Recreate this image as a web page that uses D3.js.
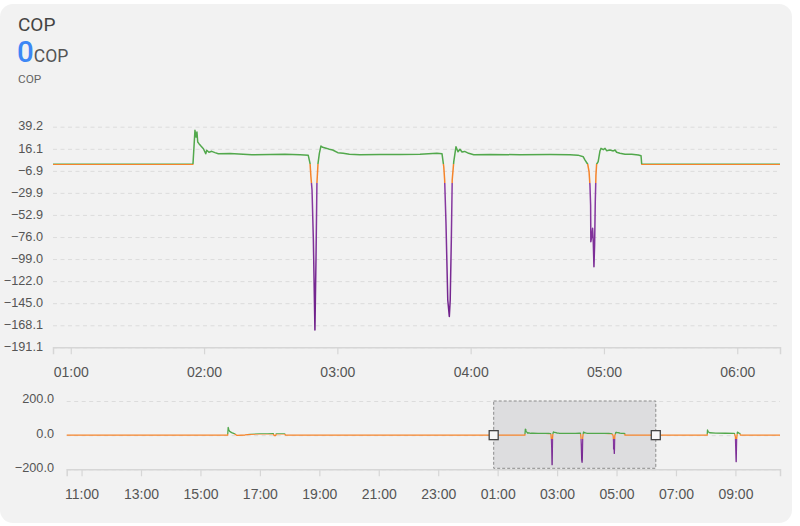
<!DOCTYPE html>
<html>
<head>
<meta charset="utf-8">
<script src="https://cdn.jsdelivr.net/npm/d3@7/dist/d3.min.js"></script>
<style>
  html, body { margin: 0; padding: 0; background: #ffffff; }
  svg { display: block; }
</style>
</head>
<body>
<div id="chart"></div>
<script>
const palette = {
  card: "#f2f2f2",
  ink: "#444444",
  label: "#555555",
  grid: "#dcdcdc",
  axis: "#d6d6d6",
  blue: "#3d87f5",
  green: "#52a84c",
  orange: "#f5842b",
  purple: "#7d2e95",
  brush: "#dddddf"
};

const dayOne = "2024-05-12";
const dayTwo = "2024-05-13";

// idle edges of the 24h overview window
const idleEdges = [
  [dayOne, "10:30:00", 0],
  [dayTwo, "10:30:00", 0]
];

// first run, afternoon of day one (only visible in the overview)
const afternoonRun = [
  ["15:55:00", 0], ["15:56:00", 46], ["15:57:30", 30], ["15:59:00", 22], ["16:03:00", 15],
  ["16:08:00", 9], ["16:12:00", 2], ["16:14:00", -1], ["16:30:00", 1], ["16:40:00", 5],
  ["17:00:00", 7], ["17:15:00", 8], ["17:27:00", 9], ["17:29:00", -3], ["17:32:00", -2],
  ["17:33:00", 8], ["17:50:00", 8], ["17:52:00", 0]
];

// night run, day two (main window)
const nightRun = [
  ["01:55:00", 0], ["01:55:54", 35.4], ["01:56:24", 28.4], ["01:56:48", 33.7], ["01:57:09", 23.2],
  ["01:57:42", 21.5], ["01:58:36", 19.0], ["01:59:42", 16.2], ["02:00:45", 11.0], ["02:01:12", 14.6],
  ["02:02:12", 12.5], ["02:03:27", 13.5], ["02:04:54", 12.1], ["02:06:24", 11.0], ["02:11:42", 11.3],
  ["02:21:30", 10.0], ["02:29:42", 10.2], ["02:36:24", 10.4], ["02:43:12", 9.8], ["02:46:54", 9.3],
  ["02:47:42", 1.0], ["02:48:06", -13.0], ["02:48:36", -26.9], ["02:49:12", -79.0], ["02:49:54", -173.0],
  ["02:50:24", -96.5], ["02:50:48", -19.9], ["02:51:18", 1.0], ["02:51:54", 11.4], ["02:52:36", 19.0],
  ["02:53:24", 17.7], ["02:54:54", 16.8], ["02:56:24", 15.6], ["02:57:54", 14.9], ["03:00:12", 12.1],
  ["03:02:36", 11.5], ["03:05:24", 10.4], ["03:10:12", 10.0], ["03:19:12", 10.3], ["03:28:12", 10.1],
  ["03:37:12", 10.4], ["03:44:48", 11.4], ["03:47:06", 11.0], ["03:47:54", -2.6], ["03:48:18", -16.4],
  ["03:48:54", -61.6], ["03:49:42", -141.7], ["03:50:24", -159.0], ["03:50:48", -141.7], ["03:51:18", -79.0],
  ["03:51:42", -16.4], ["03:52:24", 2.7], ["03:53:24", 18.3], ["03:54:18", 13.1], ["03:55:12", 15.6],
  ["03:56:06", 12.8], ["03:57:18", 13.4], ["03:59:06", 11.4], ["04:01:24", 10.0], ["04:08:42", 10.3],
  ["04:22:12", 9.9], ["04:35:42", 10.1], ["04:44:42", 9.8], ["04:48:18", 9.5], ["04:50:42", 7.8],
  ["04:51:30", 4.4], ["04:52:42", 0.0], ["04:53:18", -7.8], ["04:53:42", -21.7], ["04:54:00", -42.5],
  ["04:54:06", -80.9], ["04:54:36", -73.9], ["04:54:54", -66.9], ["04:55:12", -80.9], ["04:55:30", -107.0],
  ["04:55:48", -84.0], ["04:56:06", -39.1], ["04:56:24", -11.2], ["04:56:42", 0.0], ["04:57:24", 2.7],
  ["04:58:12", 13.8], ["04:58:42", 16.6], ["04:59:42", 15.2], ["05:00:30", 16.6], ["05:01:12", 14.2],
  ["05:02:42", 14.9], ["05:04:12", 13.9], ["05:05:00", 14.9], ["05:05:42", 12.5], ["05:07:12", 11.5],
  ["05:09:30", 10.4], ["05:12:30", 10.4], ["05:15:30", 9.7], ["05:16:42", 8.9], ["05:17:00", 0]
];

// morning run, day two (only visible in the overview)
const morningRun = [
  ["08:03:00", 0], ["08:03:40", 31], ["08:05:00", 20], ["08:08:00", 14], ["08:20:00", 12],
  ["08:40:00", 11], ["08:58:00", 10], ["09:00:00", -10], ["09:01:30", -155], ["09:02:30", -20],
  ["09:04:00", 18], ["09:07:00", 12], ["09:09:00", 10], ["09:10:00", 0]
];

const mainWindow = [[dayTwo, "00:52:00"], [dayTwo, "06:19:15"]];
const mainTicks = ["01:00", "02:00", "03:00", "04:00", "05:00", "06:00"];
const mainYTicks = [39.2, 16.1, -6.9, -29.9, -52.9, -76.0, -99.0, -122.0, -145.0, -168.1, -191.1];
const overviewTicks = [
  [dayOne, "11:00"], [dayOne, "13:00"], [dayOne, "15:00"], [dayOne, "17:00"], [dayOne, "19:00"],
  [dayOne, "21:00"], [dayOne, "23:00"], [dayTwo, "01:00"], [dayTwo, "03:00"], [dayTwo, "05:00"],
  [dayTwo, "07:00"], [dayTwo, "09:00"]
];
const overviewYTicks = [200, 0, -200];

const parseTime = d3.timeParse("%Y-%m-%d %H:%M:%S");
const at = (day, hms) => parseTime(`${day} ${hms.length === 5 ? hms + ":00" : hms}`);

const series = [
  ...idleEdges.map(([day, t, v]) => ({ t: at(day, t), v })),
  ...afternoonRun.map(([t, v]) => ({ t: at(dayOne, t), v })),
  ...nightRun.map(([t, v]) => ({ t: at(dayTwo, t), v })),
  ...morningRun.map(([t, v]) => ({ t: at(dayTwo, t), v }))
].sort((a, b) => a.t - b.t);

const width = 800;
const height = 526;
const svg = d3.select("#chart").append("svg")
  .attr("width", width)
  .attr("height", height)
  .style("font-family", "'Liberation Sans', Arial, sans-serif");

svg.append("rect")
  .attr("x", 0).attr("y", 4)
  .attr("width", 792).attr("height", 519)
  .attr("rx", 13)
  .attr("fill", palette.card);

// header
svg.append("text")
  .attr("x", 18).attr("y", 30.5)
  .attr("fill", palette.ink)
  .attr("font-family", "Roboto, sans-serif")
  .attr("font-size", 19)
  .text("COP");

const big = svg.append("text")
  .attr("x", 17).attr("y", 62.3)
  .attr("font-family", "Roboto, sans-serif");
big.append("tspan").attr("fill", palette.blue).attr("font-weight", 500).attr("font-size", 29.5).text("0");
big.append("tspan").attr("fill", palette.label).attr("font-size", 17.5).text("COP");

svg.append("text")
  .attr("x", 18).attr("y", 83.3)
  .attr("fill", "#666")
  .attr("font-family", "Roboto, sans-serif")
  .attr("font-size", 11.8)
  .text("COP");

const defs = svg.append("defs");

// colour pieces keyed on value: green above ~0, orange down to -20, purple below
function appendPieces(id, y, greenFrom) {
  const [top, bottom] = [y(y.domain()[1]), y(y.domain()[0])];
  const off = (v) => Math.max(0, Math.min(1, (y(v) - top) / (bottom - top)));
  const g = defs.append("linearGradient")
    .attr("id", id)
    .attr("gradientUnits", "userSpaceOnUse")
    .attr("x1", 0).attr("x2", 0)
    .attr("y1", top).attr("y2", bottom);
  [
    [0, palette.green], [off(greenFrom), palette.green],
    [off(greenFrom), palette.orange], [off(-20), palette.orange],
    [off(-20), "#8a3ca3"], [1, "#6a1b86"]
  ].forEach(([o, c]) => g.append("stop").attr("offset", o).attr("stop-color", c));
}

function styleGrid(g) {
  g.select(".domain").remove();
  g.selectAll(".tick line")
    .attr("stroke", palette.grid)
    .attr("stroke-dasharray", "4,3.5");
  g.selectAll(".tick text")
    .attr("fill", palette.label)
    .attr("font-size", 12.7);
}

// ---- main chart ----
const main = { left: 53, right: 780, top: 126.7, bottom: 347.3 };
const x = d3.scaleTime()
  .domain(mainWindow.map(([d, t]) => at(d, t)))
  .range([main.left, main.right]);
const y = d3.scaleLinear()
  .domain([-191.1, 39.2])
  .range([main.bottom, main.top]);

appendPieces("cop-main", y, 0.6);

svg.append("g")
  .attr("transform", `translate(${main.left},0)`)
  .call(d3.axisLeft(y)
    .tickValues(mainYTicks)
    .tickFormat(d3.format(".1f"))
    .tickSize(-(main.right - main.left))
    .tickPadding(10))
  .call(styleGrid)
  .selectAll(".tick text").attr("dy", "0.25em");

svg.append("g")
  .attr("transform", `translate(0,${main.bottom})`)
  .call(d3.axisBottom(x)
    .tickValues(mainTicks.map((t) => at(dayTwo, t)))
    .tickFormat(d3.timeFormat("%H:%M"))
    .tickSize(7)
    .tickPadding(12.5))
  .call((g) => {
    g.select(".domain").attr("stroke", palette.axis).attr("stroke-width", 1.5);
    g.selectAll(".tick line").attr("stroke", palette.axis).attr("stroke-width", 1.2);
    g.selectAll(".tick text").attr("fill", palette.label).attr("font-size", 14);
  });

defs.append("clipPath").attr("id", "main-clip")
  .append("rect")
  .attr("x", main.left).attr("y", 0)
  .attr("width", main.right - main.left).attr("height", height);

svg.append("path")
  .datum(series)
  .attr("clip-path", "url(#main-clip)")
  .attr("fill", "none")
  .attr("stroke", "url(#cop-main)")
  .attr("stroke-width", 1.5)
  .attr("stroke-linejoin", "round")
  .attr("d", d3.line().x((d) => x(d.t)).y((d) => y(d.v)));

// ---- overview ----
const ov = { left: 66.7, right: 780, top: 401, bottom: 469.3 };
const ox = d3.scaleTime()
  .domain(idleEdges.map(([d, t]) => at(d, t)))
  .range([ov.left, ov.right]);
const oy = d3.scaleLinear()
  .domain([-200, 200])
  .range([ov.bottom, ov.top]);

appendPieces("cop-overview", oy, 4);

svg.append("g")
  .attr("transform", `translate(${ov.left},0)`)
  .call(d3.axisLeft(oy)
    .tickValues(overviewYTicks)
    .tickFormat(d3.format(".1f"))
    .tickSize(-(ov.right - ov.left))
    .tickPadding(12.7))
  .call(styleGrid)
  .selectAll(".tick text").attr("dy", "0.15em");

svg.append("g")
  .attr("transform", `translate(0,${ov.bottom})`)
  .call(d3.axisBottom(ox)
    .tickValues(overviewTicks.map(([d, t]) => at(d, t)))
    .tickFormat(d3.timeFormat("%H:%M"))
    .tickSize(7)
    .tickPadding(13))
  .call((g) => {
    g.select(".domain").attr("stroke", palette.axis).attr("stroke-width", 1.5);
    g.selectAll(".tick line").attr("stroke", palette.axis).attr("stroke-width", 1.2);
    g.selectAll(".tick text").attr("fill", palette.label).attr("font-size", 14);
  });

const [b0, b1] = mainWindow.map(([d, t]) => ox(at(d, t)));
svg.append("rect")
  .attr("x", b0).attr("y", ov.top)
  .attr("width", b1 - b0).attr("height", ov.bottom - ov.top - 1)
  .attr("fill", palette.brush)
  .attr("stroke", "#8c8c8c")
  .attr("stroke-width", 1)
  .attr("stroke-dasharray", "3,2");

svg.append("path")
  .datum(series)
  .attr("fill", "none")
  .attr("stroke", "url(#cop-overview)")
  .attr("stroke-width", 1.3)
  .attr("stroke-linejoin", "round")
  .attr("d", d3.line().x((d) => ox(d.t)).y((d) => oy(d.v)));

[b0, b1].forEach((bx) => {
  svg.append("rect")
    .attr("x", bx - 4.5).attr("y", oy(0) - 4.5)
    .attr("width", 9).attr("height", 9)
    .attr("fill", "#f7f7f7")
    .attr("stroke", "#444")
    .attr("stroke-width", 1.3);
});
</script>
</body>
</html>
